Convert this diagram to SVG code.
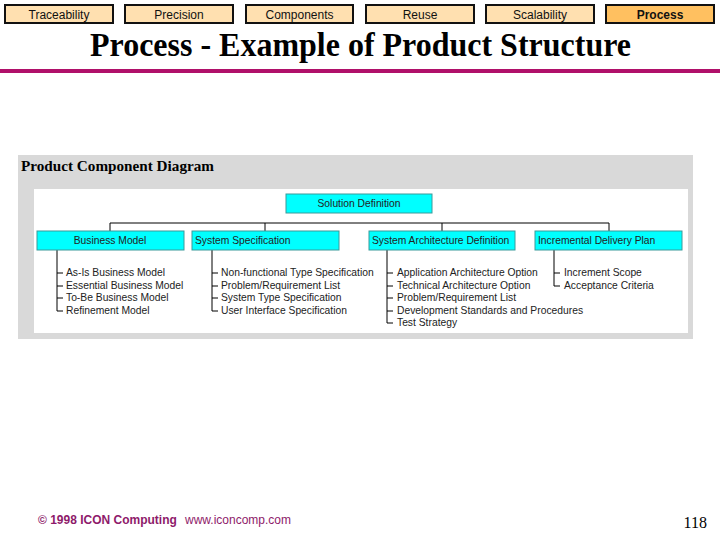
<svg xmlns="http://www.w3.org/2000/svg" width="720" height="540" viewBox="0 0 720 540">
<style>
.tab{fill:#FFE0B0;stroke:#111;stroke-width:2}
.tabt{font-family:"Liberation Sans",Arial,sans-serif;font-size:12px;fill:#111;text-anchor:middle}
.box{fill:#00FFFF;stroke:#3A9A9A;stroke-width:1}
.bt{font-family:"Liberation Sans",Arial,sans-serif;font-size:10.3px;fill:#222}
.it{font-family:"Liberation Sans",Arial,sans-serif;font-size:10.3px;fill:#222}
.ln{stroke:#000;stroke-width:1;fill:none}
</style>
<rect width="720" height="540" fill="#fff"/>
<g id="tabs">
<rect class="tab" x="5" y="5" width="108" height="18"/><text class="tabt" x="59" y="19">Traceability</text>
<rect class="tab" x="125" y="5" width="108" height="18"/><text class="tabt" x="179" y="19">Precision</text>
<rect class="tab" x="246" y="5" width="107" height="18"/><text class="tabt" x="299.5" y="19">Components</text>
<rect class="tab" x="366" y="5" width="108" height="18"/><text class="tabt" x="420" y="19">Reuse</text>
<rect class="tab" x="486" y="5" width="108" height="18"/><text class="tabt" x="540" y="19">Scalability</text>
<rect class="tab" x="606" y="5" width="108" height="18" style="fill:#FFC060"/><text class="tabt" x="660" y="19" font-weight="bold">Process</text>
</g>
<text x="90" y="56" textLength="541" lengthAdjust="spacingAndGlyphs" font-family="Liberation Serif,'Times New Roman',serif" font-weight="bold" font-size="33" fill="#000">Process - Example of Product Structure</text>
<rect x="0" y="69" width="720" height="4" fill="#B0106A"/>
<rect x="18" y="155" width="675" height="184" fill="#D9D9D9"/>
<text x="21" y="171" textLength="193" lengthAdjust="spacingAndGlyphs" font-family="Liberation Serif,'Times New Roman',serif" font-weight="bold" font-size="15" fill="#000">Product Component Diagram</text>
<rect x="34" y="189" width="654" height="144" fill="#fff"/>
<g id="connectors">
<path class="ln" d="M110 223H609M110 223V231M265 223V231M442 223V231M609 223V231"/>
<path class="ln" d="M57 250V311M57 273H63M57 286H63M57 298H63M57 311H63"/>
<path class="ln" d="M212 250V311M212 273H218M212 286H218M212 298H218M212 311H218"/>
<path class="ln" d="M387 250V323M387 273H393M387 286H393M387 298H393M387 311H393M387 323H393"/>
<path class="ln" d="M554 250V286M554 273H560M554 286H560"/>
</g>
<g id="solution"><rect class="box" x="286" y="194" width="146" height="19"/><text class="bt" x="359" y="207" text-anchor="middle">Solution Definition</text></g>
<g id="business"><rect class="box" x="37" y="231" width="147" height="19"/><text class="bt" x="110" y="244" text-anchor="middle">Business Model</text>
<text class="it" x="66" y="276">As-Is Business Model</text><text class="it" x="66" y="289">Essential Business Model</text><text class="it" x="66" y="301">To-Be Business Model</text><text class="it" x="66" y="314">Refinement Model</text></g>
<g id="sysspec"><rect class="box" x="192" y="231" width="147" height="19"/><text class="bt" x="195" y="244">System Specification</text>
<text class="it" x="221" y="276">Non-functional Type Specification</text><text class="it" x="221" y="289">Problem/Requirement List</text><text class="it" x="221" y="301">System Type Specification</text><text class="it" x="221" y="314">User Interface Specification</text></g>
<g id="sysarch"><rect class="box" x="369" y="231" width="146" height="19"/><text class="bt" x="372" y="244">System Architecture Definition</text>
<text class="it" x="397" y="276">Application Architecture Option</text><text class="it" x="397" y="289">Technical Architecture Option</text><text class="it" x="397" y="301">Problem/Requirement List</text><text class="it" x="397" y="314">Development Standards and Procedures</text><text class="it" x="397" y="326">Test Strategy</text></g>
<g id="incr"><rect class="box" x="535" y="231" width="147" height="19"/><text class="bt" x="538" y="244">Incremental Delivery Plan</text>
<text class="it" x="564" y="276">Increment Scope</text><text class="it" x="564" y="289">Acceptance Criteria</text></g>
<text x="38" y="524" font-family="Liberation Sans,Arial,sans-serif" font-size="12" fill="#8E1A6A"><tspan font-weight="bold">© 1998 ICON Computing</tspan><tspan x="185">www.iconcomp.com</tspan></text>
<text x="707" y="528" text-anchor="end" font-family="Liberation Serif,'Times New Roman',serif" font-size="16" fill="#000">118</text>
</svg>
